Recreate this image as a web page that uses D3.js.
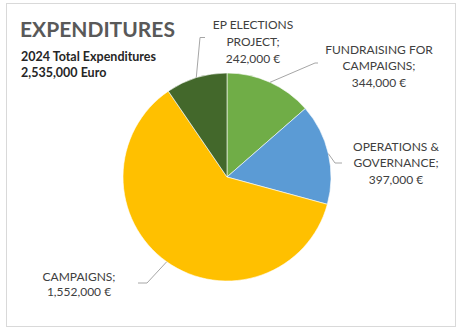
<!DOCTYPE html>
<html>
<head>
<meta charset="utf-8">
<script src="https://cdn.jsdelivr.net/npm/d3@7"></script>
<style>
  html, body { margin: 0; padding: 0; background: #fff; }
  svg { display: block; font-family: Lato, "Open Sans", sans-serif; }
</style>
</head>
<body>
<svg id="chart" width="461" height="332"></svg>
<script>
// Expenditure categories, clockwise from 12 o'clock
const categories = ["FUNDRAISING FOR CAMPAIGNS", "OPERATIONS & GOVERNANCE", "CAMPAIGNS", "EP ELECTIONS PROJECT"];
const values = [344000, 397000, 1552000, 242000];
const labelLines = [
  ["FUNDRAISING FOR", "CAMPAIGNS;"],
  ["OPERATIONS &", "GOVERNANCE;"],
  ["CAMPAIGNS;"],
  ["EP ELECTIONS", "PROJECT;"]
];
const colors = ["#70AD47", "#5B9BD5", "#FFC000", "#43682B"];
const titleText = "EXPENDITURES";
const subtitleLines = ["2024 Total Expenditures", "2,535,000 Euro"];

const svg = d3.select("#chart");

// chart frame
svg.append("rect")
  .attr("x", 6.5).attr("y", 3.5)
  .attr("width", 449).attr("height", 323)
  .attr("fill", "#fff").attr("stroke", "#D9D9D9");

// title block
svg.append("text")
  .attr("x", 20).attr("y", 37)
  .attr("font-size", 21).attr("font-weight", 700)
  .attr("fill", "#595959")
  .text(titleText);

svg.append("g").selectAll("text").data(subtitleLines).join("text")
  .attr("x", 21).attr("y", (d, i) => 61 + i * 15.5)
  .attr("font-size", 12.5).attr("font-weight", 700)
  .attr("fill", "#262626")
  .text(d => d);

// pie
const cx = 227, cy = 177, r = 104;
const pie = d3.pie().sort(null).value(d => d.value);
const arcs = pie(categories.map((c, i) => ({ name: c, value: values[i], lines: labelLines[i], color: colors[i] })));
const arc = d3.arc().innerRadius(0).outerRadius(r);

const g = svg.append("g").attr("transform", `translate(${cx},${cy})`);
g.selectAll("path").data(arcs).join("path")
  .attr("d", arc)
  .attr("fill", d => d.data.color)
  .attr("stroke", "#fff").attr("stroke-width", 0.6);

// label layout: centre x, first baseline, line step, leader elbow and end (chart coordinates)
const layout = [
  { x: 379, y: 53.5, step: 16.6, elbow: [315, 63], end: [318, 63] },
  { x: 396, y: 150.7, step: 16.6, elbow: [335, 163], end: [342, 163] },
  { x: 79, y: 281, step: 15.2, elbow: [147, 283], end: [138, 283] },
  { x: 253, y: 29.3, step: 16.6, elbow: [200, 37.5], end: [205, 37.5] }
];

const fmt = d3.format(",");
arcs.forEach((a, i) => {
  const L = layout[i];
  const mid = (a.startAngle + a.endAngle) / 2;
  const sx = cx + r * Math.sin(mid), sy = cy - r * Math.cos(mid);
  svg.append("polyline")
    .attr("points", [[sx, sy], L.elbow, L.end].map(p => p.join(",")).join(" "))
    .attr("fill", "none").attr("stroke", "#A6A6A6").attr("stroke-width", 1);
  const lines = a.data.lines.concat([fmt(a.data.value) + " €"]);
  svg.append("g").selectAll("text").data(lines).join("text")
    .attr("x", L.x).attr("y", (d, j) => L.y + j * L.step)
    .attr("text-anchor", "middle")
    .attr("font-size", 12).attr("fill", "#404040")
    .text(d => d);
});
</script>
</body>
</html>
